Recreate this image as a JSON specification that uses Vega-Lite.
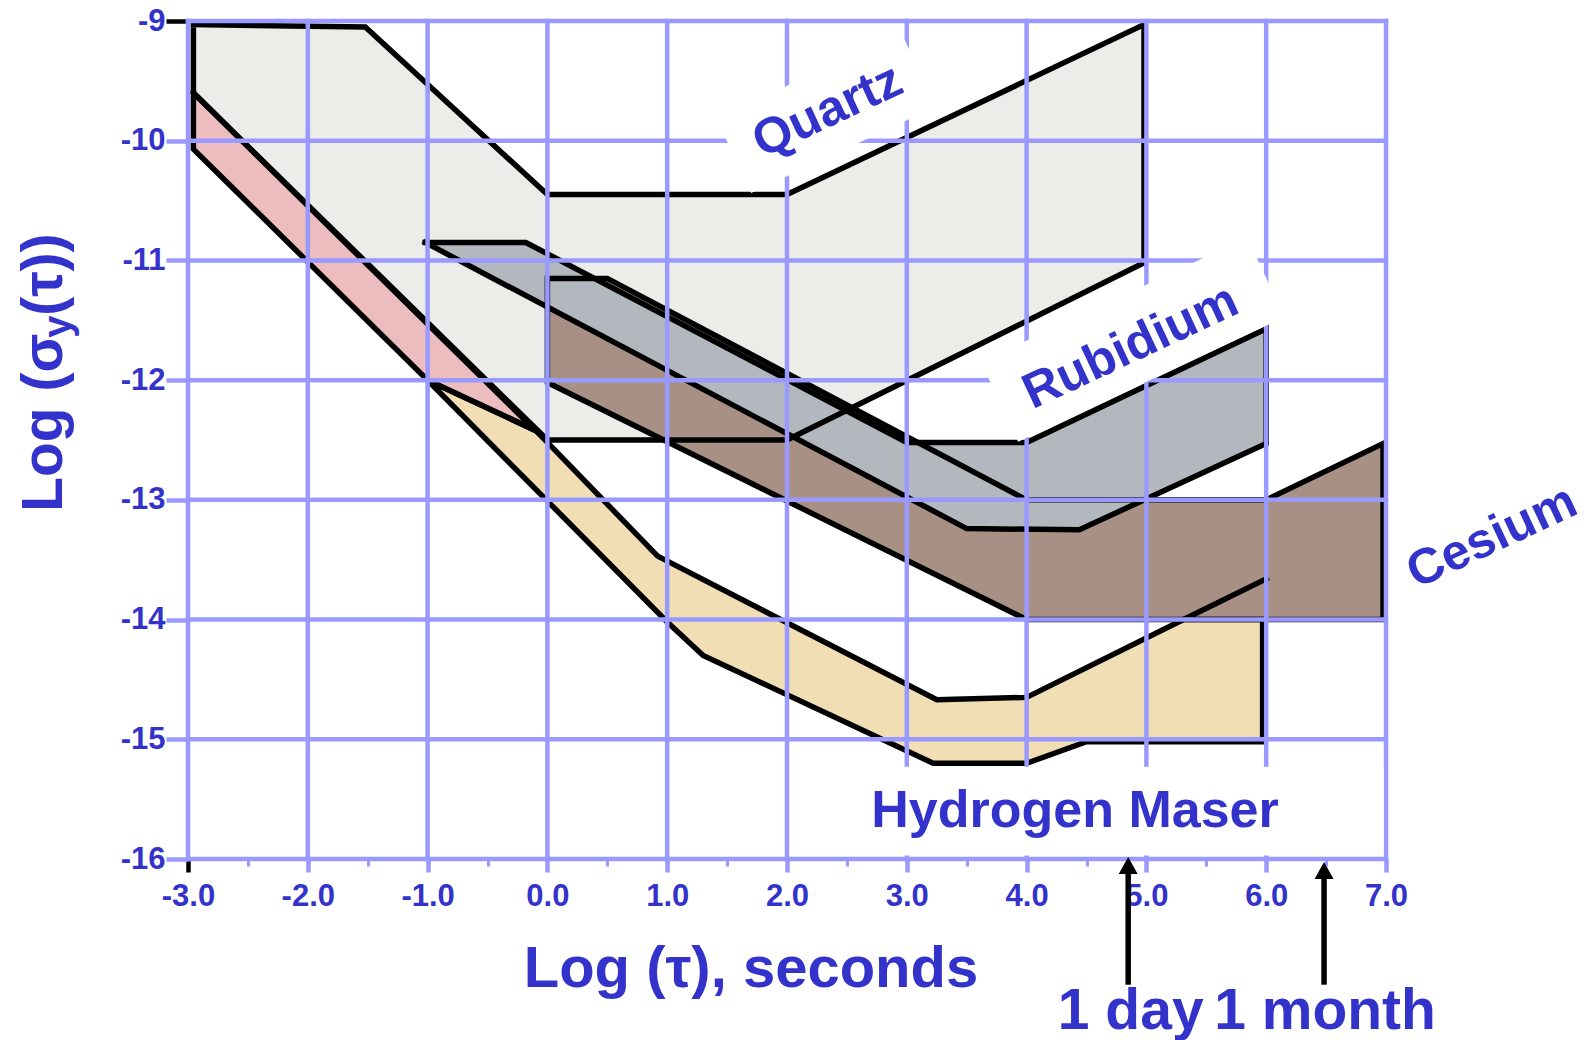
{
  "$schema": "https://vega.github.io/schema/vega-lite/v6.json",
  "width": 1198,
  "height": 838,
  "autosize": {"type": "none"},
  "padding": {"left": 188, "top": 21, "right": 204, "bottom": 181},
  "background": "white",
  "config": {"view": {"stroke": null}, "font": "Liberation Sans"},
  "datasets": {
    "shapes": [
      {"shape": "Quartz", "i": 0, "x": -2.955, "y": -9.03},
      {"shape": "Quartz", "i": 1, "x": -1.52, "y": -9.05},
      {"shape": "Quartz", "i": 2, "x": 0, "y": -10.45},
      {"shape": "Quartz", "i": 3, "x": 2, "y": -10.45},
      {"shape": "Quartz", "i": 4, "x": 4.98, "y": -9.03},
      {"shape": "Quartz", "i": 5, "x": 4.98, "y": -11.02},
      {"shape": "Quartz", "i": 6, "x": 2, "y": -12.5},
      {"shape": "Quartz", "i": 7, "x": 0, "y": -12.5},
      {"shape": "Quartz", "i": 8, "x": -2.955, "y": -9.6},
      {"shape": "Quartz", "i": 9, "x": -2.955, "y": -9.03},
      {"shape": "Cesium", "i": 0, "x": 0, "y": -11.15},
      {"shape": "Cesium", "i": 1, "x": 0.5, "y": -11.15},
      {"shape": "Cesium", "i": 2, "x": 4, "y": -13.0},
      {"shape": "Cesium", "i": 3, "x": 6, "y": -13.0},
      {"shape": "Cesium", "i": 4, "x": 6.975, "y": -12.53},
      {"shape": "Cesium", "i": 5, "x": 6.975, "y": -14.0},
      {"shape": "Cesium", "i": 6, "x": 4, "y": -14.0},
      {"shape": "Cesium", "i": 7, "x": 0, "y": -12.02},
      {"shape": "Cesium", "i": 8, "x": 0, "y": -11.15},
      {"shape": "Rubidium", "i": 0, "x": -1.02, "y": -10.85},
      {"shape": "Rubidium", "i": 1, "x": -0.18, "y": -10.85},
      {"shape": "Rubidium", "i": 2, "x": 3, "y": -12.52},
      {"shape": "Rubidium", "i": 3, "x": 4, "y": -12.52},
      {"shape": "Rubidium", "i": 4, "x": 6, "y": -11.57},
      {"shape": "Rubidium", "i": 5, "x": 6, "y": -12.53},
      {"shape": "Rubidium", "i": 6, "x": 4.44, "y": -13.25},
      {"shape": "Rubidium", "i": 7, "x": 3.5, "y": -13.24},
      {"shape": "Rubidium", "i": 8, "x": -1.02, "y": -10.85},
      {"shape": "Pink", "i": 0, "x": -2.955, "y": -9.6},
      {"shape": "Pink", "i": 1, "x": -0.1, "y": -12.42},
      {"shape": "Pink", "i": 2, "x": -1, "y": -12.0},
      {"shape": "Pink", "i": 3, "x": -2.955, "y": -10.07},
      {"shape": "Pink", "i": 4, "x": -2.955, "y": -9.6},
      {"shape": "Hydrogen", "i": 0, "x": -1, "y": -12.0},
      {"shape": "Hydrogen", "i": 1, "x": -0.1, "y": -12.42},
      {"shape": "Hydrogen", "i": 2, "x": 0, "y": -12.52},
      {"shape": "Hydrogen", "i": 3, "x": 0.92, "y": -13.47},
      {"shape": "Hydrogen", "i": 4, "x": 3.25, "y": -14.67},
      {"shape": "Hydrogen", "i": 5, "x": 4, "y": -14.65},
      {"shape": "Hydrogen", "i": 6, "x": 5.31, "y": -14.0},
      {"shape": "Hydrogen", "i": 7, "x": 5.97, "y": -14.0},
      {"shape": "Hydrogen", "i": 8, "x": 5.97, "y": -15.02},
      {"shape": "Hydrogen", "i": 9, "x": 4.5, "y": -15.02},
      {"shape": "Hydrogen", "i": 10, "x": 4, "y": -15.2},
      {"shape": "Hydrogen", "i": 11, "x": 3.22, "y": -15.2},
      {"shape": "Hydrogen", "i": 12, "x": 1.3, "y": -14.3},
      {"shape": "Hydrogen", "i": 13, "x": 1, "y": -14.02},
      {"shape": "Hydrogen", "i": 14, "x": -1, "y": -12.0},
      {"shape": "HydrogenExt", "i": 0, "x": 5.31, "y": -14.0},
      {"shape": "HydrogenExt", "i": 1, "x": 6, "y": -13.66}
    ],
    "gridx": [
      {"x": -3}, {"x": -2}, {"x": -1}, {"x": 0}, {"x": 1}, {"x": 2},
      {"x": 3}, {"x": 4}, {"x": 5}, {"x": 6}, {"x": 7}
    ],
    "gridy": [
      {"y": -9}, {"y": -10}, {"y": -11}, {"y": -12},
      {"y": -13}, {"y": -14}, {"y": -15}, {"y": -16}
    ],
    "boxes": [
      {"label": "Quartz", "x": 1.556, "y": -10.126, "x2": 3.098, "y2": -9.406},
      {"label": "Rubidium", "x": 3.774, "y": -12.181, "x2": 5.997, "y2": -11.142}
    ],
    "rectbox": [
      {"label": "Hydrogen Maser", "x": 2.47, "x2": 6.98, "y": -15.23, "y2": -15.97}
    ],
    "labels": [
      {"label": "Quartz", "x": 2.34, "y": -9.754},
      {"label": "Rubidium", "x": 4.869, "y": -11.724},
      {"label": "Cesium", "x": 7.885, "y": -13.313}
    ],
    "hlabel": [
      {"label": "Hydrogen Maser", "x": 4.404, "y": -15.6}
    ],
    "arrows": [
      {"label": "1 day", "x": 4.848, "tail": -17.05, "head": -16.054},
      {"label": "1 month", "x": 6.483, "tail": -17.05, "head": -16.096}
    ],
    "arrowtext": [
      {"label": "1 day", "x": 4.869, "y": -17.42},
      {"label": "1 month", "x": 6.491, "y": -17.42}
    ],
    "ytitle": [
      {"t": "Log (σ", "x": -4.048, "y": -13.1},
      {"t": "(τ))", "x": -4.048, "y": -11.463}
    ],
    "ysub": [
      {"t": "y", "x": -4.048, "y": -11.646}
    ]
  },
  "layer": [
    {
      "data": {"name": "shapes"},
      "transform": [{"filter": "datum.shape == 'Quartz'"}],
      "mark": {"type": "line", "fill": "#ecece9", "strokeWidth": 0, "strokeOpacity": 0},
      "encoding": {
        "x": {
          "field": "x", "type": "quantitative",
          "scale": {"domain": [-3, 7], "nice": false, "zero": false},
          "axis": {
            "values": [-3,-2.75,-2.5,-2.25,-2,-1.75,-1.5,-1.25,-1,-0.75,-0.5,-0.25,0,0.25,0.5,0.75,1,1.25,1.5,1.75,2,2.25,2.5,2.75,3,3.25,3.5,3.75,4,4.25,4.5,4.75,5,5.25,5.5,5.75,6,6.25,6.5,6.75,7],
            "title": "Log (τ), seconds",
            "titleFont": "Liberation Sans", "titleFontSize": 58, "titleFontWeight": "bold", "titleColor": "#3333cc",
            "titleX": 562.5, "titleY": 127, "titleAlign": "center", "titleBaseline": "alphabetic",
            "labelExpr": "datum.value % 1 == 0 ? (datum.value < 0 ? '-' : '') + format(abs(datum.value), '.1f') : ''",
            "labelFont": "Liberation Sans", "labelFontSize": 31, "labelFontWeight": "bold", "labelColor": "#3333cc",
            "labelPadding": 9, "labelFlush": false, "labelOverlap": false, "labelBound": false,
            "domain": false, "grid": false, "ticks": true,
            "tickColor": {"condition": {"test": "datum.value == -3", "value": "black"}, "value": "#9999ff"},
            "tickSize": {"condition": {"test": "datum.value % 1 == 0", "value": 13}, "value": 7},
            "tickWidth": {"condition": {"test": "datum.value % 1 == 0", "value": 4.5}, "value": 3}
          }
        },
        "y": {
          "field": "y", "type": "quantitative",
          "scale": {"domain": [-16, -9], "nice": false, "zero": false},
          "axis": {
            "values": [-16,-15,-14,-13,-12,-11,-10,-9],
            "title": null,
            "labelExpr": "'-' + abs(datum.value)",
            "labelFont": "Liberation Sans", "labelFontSize": 31, "labelFontWeight": "bold", "labelColor": "#3333cc",
            "labelPadding": 1, "labelFlush": false, "labelOverlap": false,
            "domain": false, "grid": false, "ticks": true, "tickSize": 22, "tickWidth": 4.5,
            "tickColor": {"condition": {"test": "datum.value == -9", "value": "black"}, "value": "#9999ff"}
          }
        },
        "order": {"field": "i"}
      }
    },
    {
      "data": {"name": "shapes"},
      "transform": [{"filter": "datum.shape == 'Cesium'"}],
      "mark": {"type": "line", "fill": "#a89084", "strokeWidth": 0, "strokeOpacity": 0},
      "encoding": {
        "x": {"field": "x", "type": "quantitative", "scale": {"domain": [-3, 7], "nice": false, "zero": false}},
        "y": {"field": "y", "type": "quantitative", "scale": {"domain": [-16, -9], "nice": false, "zero": false}},
        "order": {"field": "i"}
      }
    },
    {
      "data": {"name": "shapes"},
      "transform": [{"filter": "datum.shape == 'Rubidium'"}],
      "mark": {"type": "line", "fill": "#b3b8bf", "strokeWidth": 0, "strokeOpacity": 0},
      "encoding": {
        "x": {"field": "x", "type": "quantitative", "scale": {"domain": [-3, 7], "nice": false, "zero": false}},
        "y": {"field": "y", "type": "quantitative", "scale": {"domain": [-16, -9], "nice": false, "zero": false}},
        "order": {"field": "i"}
      }
    },
    {
      "data": {"name": "shapes"},
      "transform": [{"filter": "datum.shape == 'Pink'"}],
      "mark": {"type": "line", "fill": "#ecbcbf", "strokeWidth": 0, "strokeOpacity": 0},
      "encoding": {
        "x": {"field": "x", "type": "quantitative", "scale": {"domain": [-3, 7], "nice": false, "zero": false}},
        "y": {"field": "y", "type": "quantitative", "scale": {"domain": [-16, -9], "nice": false, "zero": false}},
        "order": {"field": "i"}
      }
    },
    {
      "data": {"name": "shapes"},
      "transform": [{"filter": "datum.shape == 'Hydrogen'"}],
      "mark": {"type": "line", "fill": "#f1deb4", "strokeWidth": 0, "strokeOpacity": 0},
      "encoding": {
        "x": {"field": "x", "type": "quantitative", "scale": {"domain": [-3, 7], "nice": false, "zero": false}},
        "y": {"field": "y", "type": "quantitative", "scale": {"domain": [-16, -9], "nice": false, "zero": false}},
        "order": {"field": "i"}
      }
    },
    {
      "data": {"name": "shapes"},
      "mark": {"type": "line", "stroke": "black", "strokeWidth": 5.5, "strokeJoin": "miter", "strokeCap": "square"},
      "encoding": {
        "x": {"field": "x", "type": "quantitative", "scale": {"domain": [-3, 7], "nice": false, "zero": false}},
        "y": {"field": "y", "type": "quantitative", "scale": {"domain": [-16, -9], "nice": false, "zero": false}},
        "detail": {"field": "shape", "type": "nominal"},
        "order": {"field": "i"}
      }
    },
    {
      "data": {"name": "gridx"},
      "mark": {"type": "rule", "color": "#9999ff", "strokeWidth": 4.5, "strokeCap": "square"},
      "encoding": {
        "x": {"field": "x", "type": "quantitative", "scale": {"domain": [-3, 7], "nice": false, "zero": false}},
        "y": {"datum": -9, "type": "quantitative", "scale": {"domain": [-16, -9], "nice": false, "zero": false}},
        "y2": {"datum": -16}
      }
    },
    {
      "data": {"name": "gridy"},
      "mark": {"type": "rule", "color": "#9999ff", "strokeWidth": 4.5, "strokeCap": "square"},
      "encoding": {
        "y": {"field": "y", "type": "quantitative", "scale": {"domain": [-16, -9], "nice": false, "zero": false}},
        "x": {"datum": -3, "type": "quantitative", "scale": {"domain": [-3, 7], "nice": false, "zero": false}},
        "x2": {"datum": 7}
      }
    },
    {
      "data": {"name": "boxes"},
      "transform": [{"filter": "datum.label == 'Quartz'"}],
      "mark": {"type": "rule", "color": "white", "strokeWidth": 82, "strokeCap": "butt"},
      "encoding": {
        "x": {"field": "x", "type": "quantitative", "scale": {"domain": [-3, 7], "nice": false, "zero": false}},
        "y": {"field": "y", "type": "quantitative", "scale": {"domain": [-16, -9], "nice": false, "zero": false}},
        "x2": {"field": "x2"},
        "y2": {"field": "y2"}
      }
    },
    {
      "data": {"name": "boxes"},
      "transform": [{"filter": "datum.label == 'Rubidium'"}],
      "mark": {"type": "rule", "color": "white", "strokeWidth": 88, "strokeCap": "butt"},
      "encoding": {
        "x": {"field": "x", "type": "quantitative", "scale": {"domain": [-3, 7], "nice": false, "zero": false}},
        "y": {"field": "y", "type": "quantitative", "scale": {"domain": [-16, -9], "nice": false, "zero": false}},
        "x2": {"field": "x2"},
        "y2": {"field": "y2"}
      }
    },
    {
      "data": {"name": "rectbox"},
      "mark": {"type": "rect", "color": "white"},
      "encoding": {
        "x": {"field": "x", "type": "quantitative", "scale": {"domain": [-3, 7], "nice": false, "zero": false}},
        "y": {"field": "y", "type": "quantitative", "scale": {"domain": [-16, -9], "nice": false, "zero": false}},
        "x2": {"field": "x2"},
        "y2": {"field": "y2"}
      }
    },
    {
      "data": {"name": "labels"},
      "mark": {"type": "text", "font": "Liberation Sans", "fontSize": 50, "fontWeight": "bold", "color": "#3333cc", "angle": 335, "align": "center", "baseline": "middle"},
      "encoding": {
        "x": {"field": "x", "type": "quantitative", "scale": {"domain": [-3, 7], "nice": false, "zero": false}},
        "y": {"field": "y", "type": "quantitative", "scale": {"domain": [-16, -9], "nice": false, "zero": false}},
        "text": {"field": "label"}
      }
    },
    {
      "data": {"name": "hlabel"},
      "mark": {"type": "text", "font": "Liberation Sans", "fontSize": 52, "fontWeight": "bold", "color": "#3333cc", "align": "center", "baseline": "middle"},
      "encoding": {
        "x": {"field": "x", "type": "quantitative", "scale": {"domain": [-3, 7], "nice": false, "zero": false}},
        "y": {"field": "y", "type": "quantitative", "scale": {"domain": [-16, -9], "nice": false, "zero": false}},
        "text": {"field": "label"}
      }
    },
    {
      "data": {"name": "arrows"},
      "mark": {"type": "rule", "color": "black", "strokeWidth": 5.5},
      "encoding": {
        "x": {"field": "x", "type": "quantitative", "scale": {"domain": [-3, 7], "nice": false, "zero": false}},
        "y": {"field": "tail", "type": "quantitative", "scale": {"domain": [-16, -9], "nice": false, "zero": false}},
        "y2": {"field": "head"}
      }
    },
    {
      "data": {"name": "arrows"},
      "mark": {"type": "point", "shape": "M0,-0.45L0.5,0.45L-0.5,0.45Z", "filled": true, "color": "black", "opacity": 1, "size": 1444, "strokeWidth": 0},
      "encoding": {
        "x": {"field": "x", "type": "quantitative", "scale": {"domain": [-3, 7], "nice": false, "zero": false}},
        "y": {"field": "head", "type": "quantitative", "scale": {"domain": [-16, -9], "nice": false, "zero": false}}
      }
    },
    {
      "data": {"name": "arrowtext"},
      "mark": {"type": "text", "font": "Liberation Sans", "fontSize": 57, "fontWeight": "bold", "color": "#3333cc", "align": "center", "baseline": "alphabetic"},
      "encoding": {
        "x": {"field": "x", "type": "quantitative", "scale": {"domain": [-3, 7], "nice": false, "zero": false}},
        "y": {"field": "y", "type": "quantitative", "scale": {"domain": [-16, -9], "nice": false, "zero": false}},
        "text": {"field": "label"}
      }
    },
    {
      "data": {"name": "ytitle"},
      "mark": {"type": "text", "font": "Liberation Sans", "fontSize": 57, "fontWeight": "bold", "color": "#3333cc", "angle": 270, "align": "left", "baseline": "alphabetic"},
      "encoding": {
        "x": {"field": "x", "type": "quantitative", "scale": {"domain": [-3, 7], "nice": false, "zero": false}},
        "y": {"field": "y", "type": "quantitative", "scale": {"domain": [-16, -9], "nice": false, "zero": false}},
        "text": {"field": "t"}
      }
    },
    {
      "data": {"name": "ysub"},
      "mark": {"type": "text", "font": "Liberation Sans", "fontSize": 40, "fontWeight": "bold", "color": "#3333cc", "angle": 270, "align": "left", "baseline": "alphabetic", "dy": 9},
      "encoding": {
        "x": {"field": "x", "type": "quantitative", "scale": {"domain": [-3, 7], "nice": false, "zero": false}},
        "y": {"field": "y", "type": "quantitative", "scale": {"domain": [-16, -9], "nice": false, "zero": false}},
        "text": {"field": "t"}
      }
    }
  ]
}
